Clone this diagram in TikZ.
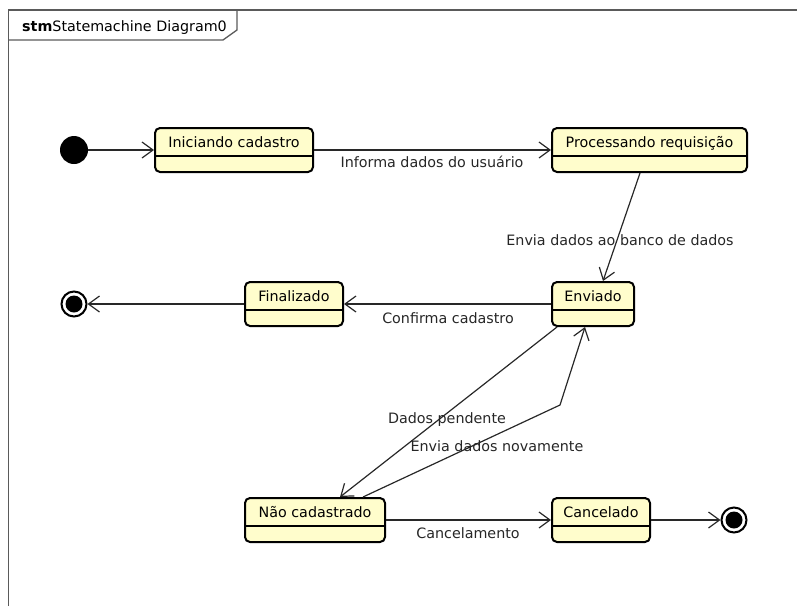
\documentclass[tikz,border=0pt]{standalone}
\usepackage{fontspec}
\setmainfont{DejaVu Sans}
\usetikzlibrary{arrows.meta,calc}
\definecolor{statefill}{RGB}{255,253,204}
\definecolor{edgecol}{RGB}{40,40,40}
\definecolor{framecol}{RGB}{90,90,90}
\begin{document}
\begin{tikzpicture}[x=1pt,y=-1pt,
  font=\fontsize{14.3}{16}\selectfont,
  stbox/.style={draw=black, line width=2pt, fill=statefill, rounded corners=5pt,
    inner xsep=0pt, inner ysep=5pt, text height=14pt, text depth=20pt, minimum height=44pt,
    path picture={\draw[line width=1.3pt] ([yshift=-28pt]path picture bounding box.north west) -- ([yshift=-28pt]path picture bounding box.north east);}},
  initst/.style={circle, fill=black, minimum size=28pt, inner sep=0pt},
  finalst/.style={circle, draw=black, line width=2pt, fill=white, minimum size=25pt, inner sep=0pt,
    path picture={\fill[black] (path picture bounding box.center) circle (8.5pt);}},
  arr/.style={draw=edgecol, line width=1.2pt, -{Straight Barb[length=11pt,width=16pt,line width=1.2pt]}},
  lbl/.style={inner sep=0pt, text=black!85}]
\useasboundingbox (0,0) rectangle (797,606);
% frame
\draw[framecol, line width=1.3pt] (8.5,606) -- (8.5,10) -- (797,10);
\draw[framecol, line width=1.3pt] (8.5,40) -- (223,40) -- (237,30) -- (237,10);
\node[anchor=base west, inner sep=0pt] (title) at (22,31) {\textbf{stm}Statemachine Diagram0};
% states
\node[initst] (init) at (74,150) {};
\node[stbox, minimum width=158pt] (ini) at (234,150) {Iniciando cadastro};
\node[stbox, minimum width=195pt] (proc) at (649.5,150) {Processando requisição};
\node[stbox, minimum width=82pt] (env) at (593,304) {Enviado};
\node[stbox, minimum width=98pt] (fin) at (294,304) {Finalizado};
\node[finalst] (f1) at (74,304) {};
\node[stbox, minimum width=140pt] (nao) at (315,520) {Não cadastrado};
\node[stbox, minimum width=98pt] (can) at (601,520) {Cancelado};
\node[finalst] (f2) at (734,520) {};
\coordinate (bend) at (560,405);
% transitions
\draw[arr] (init) -- (ini);
\draw[arr] (ini) -- (proc) node[lbl] at (432,162) {Informa dados do usuário};
\draw[arr] ($(proc.south)+(-9.5,0)$) -- ($(env.north)+(10,0)$) node[lbl] at (620,240) {Envia dados ao banco de dados};
\draw[arr] (env) -- (fin) node[lbl] at (448,318) {Confirma cadastro};
\draw[arr] (fin) -- (f1);
\draw[arr] ($(env.south west)+(6,0)$) -- ($(nao.north)+(25,0)$) node[lbl] at (447,420) {Dados pendente};
\draw[arr] ($(nao.north)+(48,0)$) -- (bend) -- ($(env.south)+(-8,0)$) node[lbl] at (497,446) {Envia dados novamente};
\draw[arr] (nao) -- (can) node[lbl] at (468,533) {Cancelamento};
\draw[arr] (can) -- (f2);
\end{tikzpicture}
\end{document}
